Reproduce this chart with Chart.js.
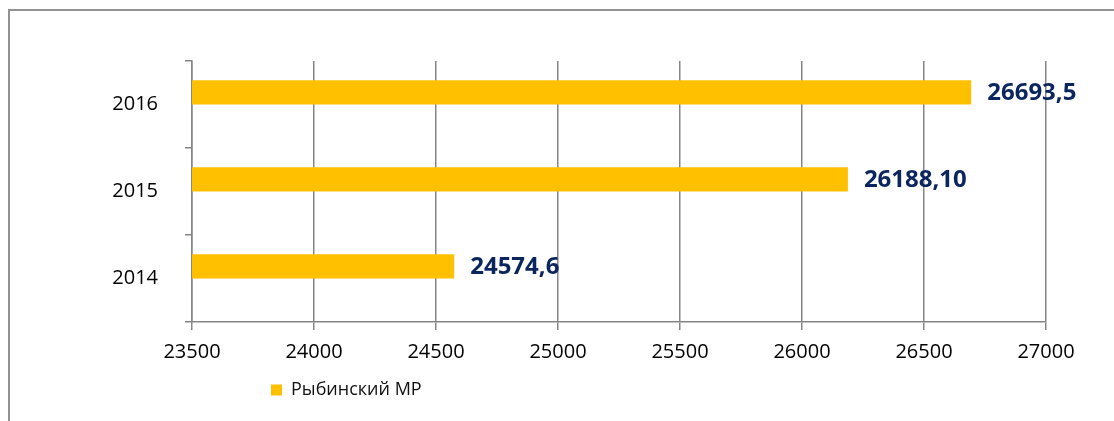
<!DOCTYPE html>
<html>
<head>
<meta charset="utf-8">
<script src="https://cdn.jsdelivr.net/npm/chart.js@4"></script>
<style>
    body { margin: 0; background: #fff; }
    #wrap { position: relative; width: 1114px; height: 421px; overflow: hidden; }
    #frame { position: absolute; left: 8px; top: 9px; width: 1200px; height: 500px;
             border-top: 2px solid #929292; border-left: 2px solid #929292; }
    canvas { position: absolute; left: 0; top: 0; }
</style>
</head>
<body>
<div id="wrap">
    <div id="frame"></div>
    <canvas id="data-chart" width="1114" height="421"></canvas>
</div>
<script>
var years = ['2014', '2015', '2016'];
var values = [24574.6, 26188.10, 26693.5];
var valueLabels = ['24574,6', '26188,10', '26693,5'];
var seriesName = 'Рыбинский МР';
var xMin = 23500, xMax = 27000, xStep = 500;

var gridColor = '#858585';

// value labels to the right of each bar
var barLabels = {
    id: 'barLabels',
    afterDatasetsDraw: function (chart) {
        var ctx = chart.ctx;
        var meta = chart.getDatasetMeta(0);
        ctx.save();
        ctx.font = 'bold 24px "Open Sans"';
        ctx.fillStyle = '#0b255e';
        ctx.textBaseline = 'middle';
        ctx.textAlign = 'left';
        meta.data.forEach(function (bar, i) {
            ctx.fillText(valueLabels[i], bar.x + 16, bar.y + 1);
        });
        ctx.restore();
    }
};

// legend sits left of centre in the original
var legendShift = {
    id: 'legendShift',
    afterLayout: function (chart) {
        chart.legend.left += 261;
        chart.legend.right += 261;
        chart.legend.top += 1;
        chart.legend.bottom += 1;
    }
};

var ctx = document.getElementById('data-chart').getContext('2d');
new Chart(ctx, {
    type: 'bar',
    data: {
        labels: years,
        datasets: [{
            label: seriesName,
            data: values,
            backgroundColor: '#ffc000',
            borderWidth: 0,
            categoryPercentage: 0.556,
            barPercentage: 1
        }, {
            label: '',
            data: years.map(function () { return null; }),
            backgroundColor: 'rgba(0,0,0,0)',
            categoryPercentage: 0.556,
            barPercentage: 1
        }]
    },
    options: {
        indexAxis: 'y',
        responsive: false,
        animation: false,
        devicePixelRatio: 1,
        layout: { padding: { top: 61, right: 68, bottom: 13, left: 0 } },
        plugins: {
            tooltip: { enabled: false },
            legend: {
                position: 'bottom',
                align: 'start',
                labels: {
                    boxWidth: 11,
                    boxHeight: 11,
                    padding: 10,
                    color: '#111',
                    font: { family: 'Open Sans', size: 18 },
                    filter: function (item) { return item.datasetIndex === 0; }
                }
            }
        },
        scales: {
            x: {
                min: xMin,
                max: xMax,
                afterFit: function (scale) { scale.height = 48; },
                ticks: {
                    stepSize: xStep,
                    padding: 10,
                    color: '#000',
                    font: { family: 'Open Sans', size: 20 },
                    callback: function (v) { return String(v); }
                },
                grid: { color: gridColor, lineWidth: 1.5, tickLength: 8 },
                border: { color: gridColor, width: 1.5 }
            },
            y: {
                reverse: true,
                afterFit: function (scale) { scale.width = 192; },
                ticks: {
                    padding: 27,
                    color: '#000',
                    font: { family: 'Open Sans', size: 20 }
                },
                grid: { offset: true, drawOnChartArea: false, color: gridColor, lineWidth: 1.5, tickLength: 7 },
                border: { color: gridColor, width: 1.5 }
            }
        }
    },
    plugins: [barLabels, legendShift]
});
</script>
</body>
</html>
